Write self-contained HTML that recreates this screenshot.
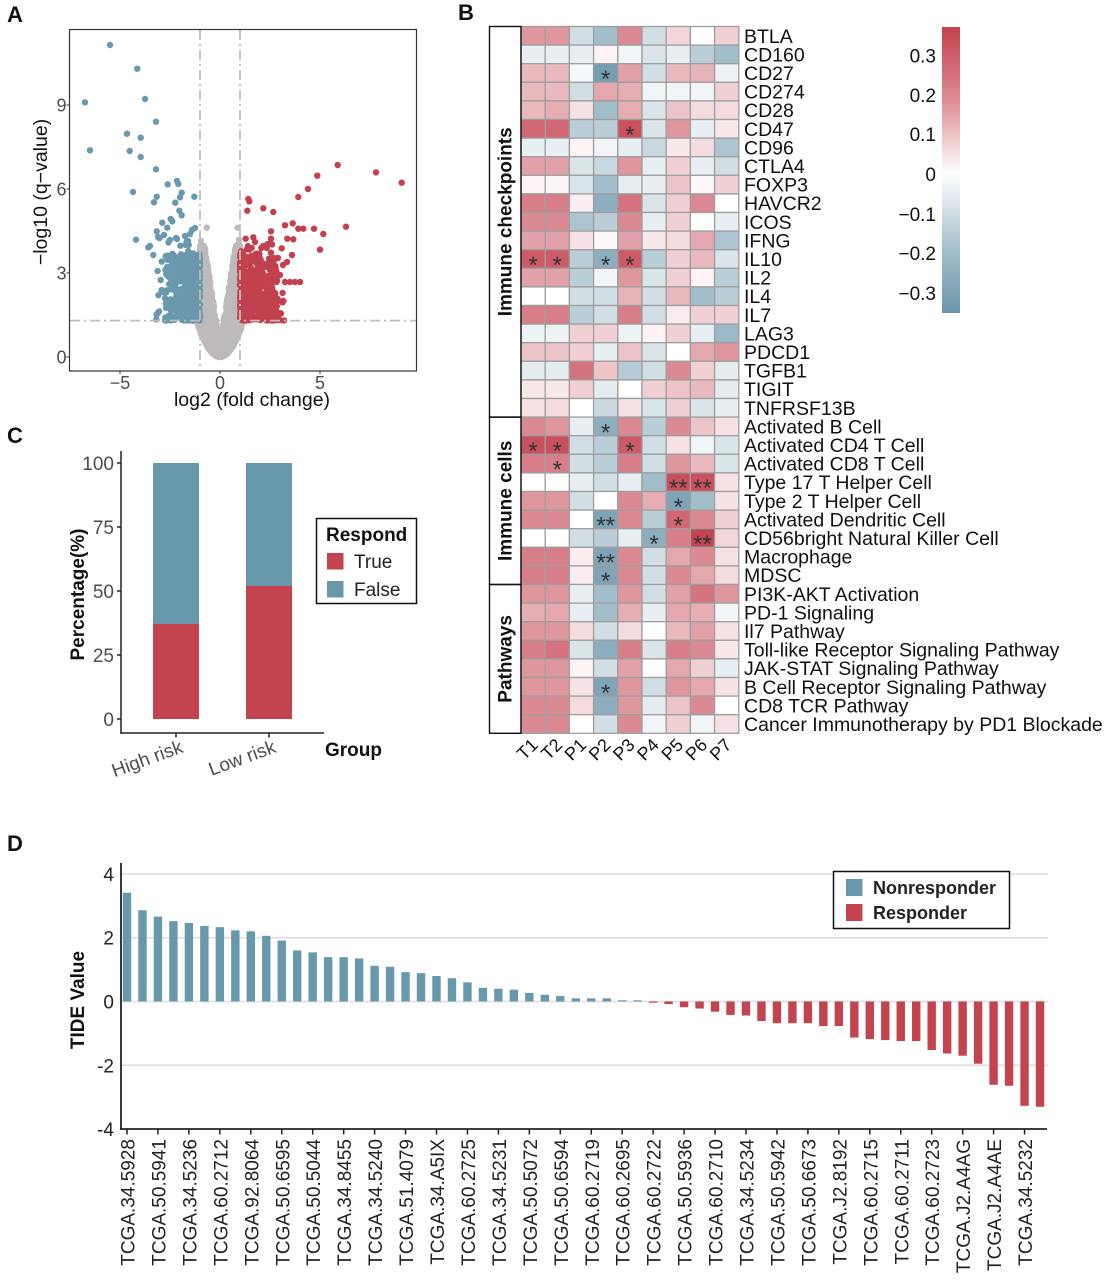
<!DOCTYPE html>
<html><head><meta charset="utf-8">
<style>html,body{margin:0;padding:0;background:#fff;}svg{display:block;}</style>
</head>
<body>
<svg xmlns="http://www.w3.org/2000/svg" width="1110" height="1280" viewBox="0 0 1110 1280" font-family="'Liberation Sans', Arial, sans-serif">
<rect width="1110" height="1280" fill="#fff"/>

<!-- ================= PANEL A ================= -->
<text x="7" y="22" font-size="22" font-weight="bold" fill="#111">A</text>
<g id="volc"></g>
<g stroke="#BDBDBD" stroke-width="1.8" fill="none" stroke-dasharray="10 4 2 4">
  <line x1="200" y1="30" x2="200" y2="370"/>
  <line x1="240" y1="30" x2="240" y2="370"/>
  <line x1="70" y1="320.6" x2="416" y2="320.6"/>
</g>
<rect x="69.5" y="29.5" width="347" height="341.5" fill="none" stroke="#333" stroke-width="1.2"/>
<g stroke="#333" stroke-width="1">
  <line x1="66.5" y1="357" x2="69" y2="357"/><line x1="66.5" y1="273" x2="69" y2="273"/>
  <line x1="66.5" y1="189" x2="69" y2="189"/><line x1="66.5" y1="105" x2="69" y2="105"/>
  <line x1="120" y1="371" x2="120" y2="374"/><line x1="220" y1="371" x2="220" y2="374"/><line x1="320" y1="371" x2="320" y2="374"/>
</g>
<g font-size="18" fill="#4D4D4D" text-anchor="end">
  <text x="66.5" y="363.5">0</text><text x="66.5" y="279.5">3</text>
  <text x="66.5" y="195.5">6</text><text x="66.5" y="111.5">9</text>
</g>
<g font-size="18" fill="#4D4D4D" text-anchor="middle">
  <text x="120" y="389">−5</text><text x="220" y="389">0</text><text x="320" y="389">5</text>
</g>
<text x="252" y="406" font-size="19.5" fill="#111" text-anchor="middle">log2 (fold change)</text>
<text transform="translate(47,192) rotate(-90)" font-size="19.5" fill="#111" text-anchor="middle">−log10 (q−value)</text>

<!-- ================= PANEL B ================= -->
<text x="458" y="20" font-size="22" font-weight="bold" fill="#111">B</text>
<g id="heat"></g>
<g fill="none" stroke="#111" stroke-width="1.4">
  <rect x="489.5" y="26.5" width="31.5" height="390.6"/>
  <rect x="489.5" y="417.1" width="31.5" height="167.4"/>
  <rect x="489.5" y="584.5" width="31.5" height="148.8"/>
</g>
<g font-size="19" font-weight="bold" fill="#111" text-anchor="middle">
  <text transform="translate(511.5,221.8) rotate(-90)">Immune checkpoints</text>
  <text transform="translate(511.5,500.8) rotate(-90)">Immune cells</text>
  <text transform="translate(511.5,658.9) rotate(-90)">Pathways</text>
</g>
<!-- stars -->
<g font-size="24" fill="#333" text-anchor="middle">
  <text x="605.7" y="87">*</text>
  <text x="629.9" y="142.8">*</text>
  <text x="533.1" y="273">*</text><text x="557.3" y="273">*</text><text x="605.7" y="273">*</text><text x="629.9" y="273">*</text>
  <text x="605.7" y="440.4">*</text>
  <text x="533.1" y="459">*</text><text x="557.3" y="459">*</text><text x="629.9" y="459">*</text>
  <text x="557.3" y="477.6">*</text>
  <text x="678.3" y="496.2">**</text><text x="702.5" y="496.2">**</text>
  <text x="678.3" y="514.8">*</text>
  <text x="605.7" y="533.4">**</text><text x="678.3" y="533.4">*</text>
  <text x="654.1" y="552">*</text><text x="702.5" y="552">**</text>
  <text x="605.7" y="570.6">**</text>
  <text x="605.7" y="589.2">*</text>
  <text x="605.7" y="700.8">*</text>
</g>
<!-- row labels -->
<g font-size="19.5" fill="#111">
  <text x="744" y="42.8">BTLA</text>
  <text x="744" y="61.4">CD160</text>
  <text x="744" y="80">CD27</text>
  <text x="744" y="98.6">CD274</text>
  <text x="744" y="117.2">CD28</text>
  <text x="744" y="135.8">CD47</text>
  <text x="744" y="154.4">CD96</text>
  <text x="744" y="173">CTLA4</text>
  <text x="744" y="191.6">FOXP3</text>
  <text x="744" y="210.2">HAVCR2</text>
  <text x="744" y="228.8">ICOS</text>
  <text x="744" y="247.4">IFNG</text>
  <text x="744" y="266">IL10</text>
  <text x="744" y="284.6">IL2</text>
  <text x="744" y="303.2">IL4</text>
  <text x="744" y="321.8">IL7</text>
  <text x="744" y="340.4">LAG3</text>
  <text x="744" y="359">PDCD1</text>
  <text x="744" y="377.6">TGFB1</text>
  <text x="744" y="396.2">TIGIT</text>
  <text x="744" y="414.8">TNFRSF13B</text>
  <text x="744" y="433.4">Activated B Cell</text>
  <text x="744" y="452">Activated CD4 T Cell</text>
  <text x="744" y="470.6">Activated CD8 T Cell</text>
  <text x="744" y="489.2">Type 17 T Helper Cell</text>
  <text x="744" y="507.8">Type 2 T Helper Cell</text>
  <text x="744" y="526.4">Activated Dendritic Cell</text>
  <text x="744" y="545">CD56bright Natural Killer Cell</text>
  <text x="744" y="563.6">Macrophage</text>
  <text x="744" y="582.2">MDSC</text>
  <text x="744" y="600.8">PI3K-AKT Activation</text>
  <text x="744" y="619.4">PD-1 Signaling</text>
  <text x="744" y="638">Il7 Pathway</text>
  <text x="744" y="656.6">Toll-like Receptor Signaling Pathway</text>
  <text x="744" y="675.2">JAK-STAT Signaling Pathway</text>
  <text x="744" y="693.8">B Cell Receptor Signaling Pathway</text>
  <text x="744" y="712.4">CD8 TCR Pathway</text>
  <text x="744" y="731">Cancer Immunotherapy by PD1 Blockade</text>
</g>
<!-- column labels -->
<g font-size="18" fill="#111" text-anchor="end">
  <text transform="translate(539.1,746) rotate(-45)">T1</text>
  <text transform="translate(563.3,746) rotate(-45)">T2</text>
  <text transform="translate(587.5,746) rotate(-45)">P1</text>
  <text transform="translate(611.7,746) rotate(-45)">P2</text>
  <text transform="translate(635.9,746) rotate(-45)">P3</text>
  <text transform="translate(660.1,746) rotate(-45)">P4</text>
  <text transform="translate(684.3,746) rotate(-45)">P5</text>
  <text transform="translate(708.5,746) rotate(-45)">P6</text>
  <text transform="translate(732.7,746) rotate(-45)">P7</text>
</g>
<!-- colorbar -->
<defs>
  <linearGradient id="cb" x1="0" y1="0" x2="0" y2="1">
    <stop offset="0" stop-color="#C43F4D"/>
    <stop offset="0.25" stop-color="#DE8A92"/>
    <stop offset="0.514" stop-color="#FFFFFF"/>
    <stop offset="0.76" stop-color="#A9C2CF"/>
    <stop offset="1" stop-color="#6B96AB"/>
  </linearGradient>
</defs>
<rect x="942" y="27" width="18" height="286" fill="url(#cb)"/>
<g font-size="19" fill="#111" text-anchor="end">
  <text x="936" y="62.5">0.3</text>
  <text x="936" y="101.8">0.2</text>
  <text x="936" y="141">0.1</text>
  <text x="936" y="180.8">0</text>
  <text x="936" y="221">−0.1</text>
  <text x="936" y="260">−0.2</text>
  <text x="936" y="300">−0.3</text>
</g>

<!-- ================= PANEL C ================= -->
<text x="7" y="443" font-size="22" font-weight="bold" fill="#111">C</text>
<rect x="153" y="463" width="46" height="161" fill="#6898AC"/>
<rect x="153" y="624" width="46" height="95" fill="#C3434F"/>
<rect x="246" y="463" width="46" height="123" fill="#6898AC"/>
<rect x="246" y="586" width="46" height="133" fill="#C3434F"/>
<g stroke="#222" stroke-width="1.5" fill="none">
  <line x1="121" y1="451" x2="121" y2="733.75"/>
  <line x1="120.25" y1="733" x2="324" y2="733"/>
  <line x1="117" y1="463" x2="121" y2="463"/><line x1="117" y1="527" x2="121" y2="527"/>
  <line x1="117" y1="591" x2="121" y2="591"/><line x1="117" y1="655" x2="121" y2="655"/>
  <line x1="117" y1="719" x2="121" y2="719"/>
  <line x1="176" y1="733" x2="176" y2="737.5"/><line x1="269" y1="733" x2="269" y2="737.5"/>
</g>
<g font-size="19" fill="#4D4D4D" text-anchor="end">
  <text x="114" y="470">100</text><text x="114" y="534">75</text>
  <text x="114" y="598">50</text><text x="114" y="662">25</text><text x="114" y="726">0</text>
</g>
<text transform="translate(84,594.5) rotate(-90)" font-size="19" font-weight="bold" fill="#111" text-anchor="middle">Percentage(%)</text>
<g font-size="19" fill="#4D4D4D" text-anchor="end">
  <text transform="translate(184,752) rotate(-20)">High risk</text>
  <text transform="translate(277,752) rotate(-20)">Low risk</text>
</g>
<text x="325" y="756" font-size="19" font-weight="bold" fill="#111">Group</text>
<rect x="316.5" y="518.5" width="100" height="85" fill="#fff" stroke="#111" stroke-width="1.5"/>
<text x="326" y="541" font-size="19" font-weight="bold" fill="#111">Respond</text>
<rect x="327" y="553" width="16.5" height="16.5" fill="#C3434F"/>
<rect x="327" y="581" width="16.5" height="16.5" fill="#6898AC"/>
<text x="354" y="568" font-size="19" fill="#222">True</text>
<text x="354" y="596" font-size="19" fill="#222">False</text>

<!-- ================= PANEL D ================= -->
<text x="7" y="851" font-size="22" font-weight="bold" fill="#111">D</text>
<g stroke="#DEDEDE" stroke-width="1.6">
  <line x1="121" y1="873.9" x2="1048" y2="873.9"/>
  <line x1="121" y1="937.7" x2="1048" y2="937.7"/>
  <line x1="121" y1="1001.5" x2="1048" y2="1001.5"/>
  <line x1="121" y1="1065.3" x2="1048" y2="1065.3"/>
</g>
<g id="bars"></g>
<g stroke="#222" stroke-width="1.8" fill="none">
  <line x1="121" y1="863" x2="121" y2="1130"/>
  <line x1="120" y1="1129" x2="1047" y2="1129"/>
</g>
<g id="xticks" stroke="#222" stroke-width="1.5"></g>
<g font-size="19" fill="#222" text-anchor="end">
  <text x="114" y="880.9">4</text><text x="114" y="944.7">2</text>
  <text x="114" y="1008.5">0</text><text x="114" y="1072.3">-2</text><text x="114" y="1136">-4</text>
</g>
<text transform="translate(84,1000) rotate(-90)" font-size="19" font-weight="bold" fill="#111" text-anchor="middle">TIDE Value</text>
<g font-size="19" fill="#222" text-anchor="end">
  <text transform="translate(134.5,1139) rotate(-90)">TCGA.34.5928</text>
  <text transform="translate(165.5,1139) rotate(-90)">TCGA.50.5941</text>
  <text transform="translate(196.4,1139) rotate(-90)">TCGA.34.5236</text>
  <text transform="translate(227.4,1139) rotate(-90)">TCGA.60.2712</text>
  <text transform="translate(258.3,1139) rotate(-90)">TCGA.92.8064</text>
  <text transform="translate(289.3,1139) rotate(-90)">TCGA.50.6595</text>
  <text transform="translate(320.2,1139) rotate(-90)">TCGA.50.5044</text>
  <text transform="translate(351.2,1139) rotate(-90)">TCGA.34.8455</text>
  <text transform="translate(382.1,1139) rotate(-90)">TCGA.34.5240</text>
  <text transform="translate(413.1,1139) rotate(-90)">TCGA.51.4079</text>
  <text transform="translate(444,1139) rotate(-90)">TCGA.34.A5IX</text>
  <text transform="translate(475,1139) rotate(-90)">TCGA.60.2725</text>
  <text transform="translate(505.9,1139) rotate(-90)">TCGA.34.5231</text>
  <text transform="translate(536.9,1139) rotate(-90)">TCGA.50.5072</text>
  <text transform="translate(567.8,1139) rotate(-90)">TCGA.50.6594</text>
  <text transform="translate(598.8,1139) rotate(-90)">TCGA.60.2719</text>
  <text transform="translate(629.7,1139) rotate(-90)">TCGA.60.2695</text>
  <text transform="translate(660.7,1139) rotate(-90)">TCGA.60.2722</text>
  <text transform="translate(691.6,1139) rotate(-90)">TCGA.50.5936</text>
  <text transform="translate(722.6,1139) rotate(-90)">TCGA.60.2710</text>
  <text transform="translate(753.5,1139) rotate(-90)">TCGA.34.5234</text>
  <text transform="translate(784.5,1139) rotate(-90)">TCGA.50.5942</text>
  <text transform="translate(815.4,1139) rotate(-90)">TCGA.50.6673</text>
  <text transform="translate(846.4,1139) rotate(-90)">TCGA.J2.8192</text>
  <text transform="translate(877.3,1139) rotate(-90)">TCGA.60.2715</text>
  <text transform="translate(908.3,1139) rotate(-90)">TCGA.60.2711</text>
  <text transform="translate(939.2,1139) rotate(-90)">TCGA.60.2723</text>
  <text transform="translate(970.2,1139) rotate(-90)">TCGA.J2.A4AG</text>
  <text transform="translate(1001.1,1139) rotate(-90)">TCGA.J2.A4AE</text>
  <text transform="translate(1032.1,1139) rotate(-90)">TCGA.34.5232</text>
</g>
<rect x="833.5" y="871.5" width="176" height="57" fill="#fff" stroke="#111" stroke-width="1.5"/>
<rect x="846" y="879" width="16.5" height="17" fill="#6898AC"/>
<rect x="846" y="904" width="16.5" height="17" fill="#C3434F"/>
<text x="873" y="894" font-size="18" font-weight="bold" fill="#222">Nonresponder</text>
<text x="873" y="919" font-size="18" font-weight="bold" fill="#222">Responder</text>
</svg>

<script>
(function(){
var NS='http://www.w3.org/2000/svg';
function mk(tag,a,p){var e=document.createElementNS(NS,tag);for(var k in a)e.setAttribute(k,a[k]);p.appendChild(e);return e;}
function rng(s){return function(){s|=0;s=s+0x6D2B79F5|0;var t=Math.imul(s^s>>>15,1|s);t=t+Math.imul(t^t>>>7,61|t)^t;return((t^t>>>14)>>>0)/4294967296;};}
var R=rng(12345);

/* ---------- Volcano ---------- */
var g=document.getElementById('volc');
function X(l){return 220+20*l;} function Y(q){return 357-28*q;}
var GR='#BEB9BA',BL='#6A98AD',RD='#C2414E';
var gray=[],blue=[],red=[];
var i,q,l,s,inner,w;
for(i=0;i<2400;i++){
  q=1.32*R(); inner=Math.max(0,0.22*(q-0.45)); w=0.6+1.0*Math.pow(q/1.3,2);
  s=R()<0.5?-1:1; l=s*(inner+(w-inner)*R());
  if(q<0.35*Math.pow(Math.abs(l)/0.62,2)) continue;
  gray.push([X(l),Y(q)]);
}
for(i=0;i<1400;i++){
  q=1.3+2.7*Math.pow(R(),1.5); inner=0.22*(q-0.45);
  s=R()<0.5?-1:1; l=s*(inner+(1-inner)*R());
  gray.push([X(l),Y(q)]);
}
gray.push([206.7,227.7],[237.7,227.7],[201,241],[239,240],[200,250],[240,252]);
for(i=0;i<430;i++){ l=-1-1.75*Math.pow(R(),1.5); q=1.3+2.4*Math.pow(R(),1.3); blue.push([X(l),Y(q)]); }
for(i=0;i<55;i++){ l=-1-2.2*R(); q=1.3+3.0*Math.pow(R(),1.6); blue.push([X(l),Y(q)]); }
for(i=0;i<480;i++){ l=1+1.85*Math.pow(R(),1.45); q=1.3+2.4*Math.pow(R(),1.3); red.push([X(l),Y(q)]); }
for(i=0;i<60;i++){ l=1+2.2*R(); q=1.3+2.8*Math.pow(R(),1.6); red.push([X(l),Y(q)]); }
var bo=[[110,45],[137.3,68.7],[85,102.3],[145,99],[156,121.7],[127,133.7],[140.7,137.7],[90,150.3],[129.7,151],[140.7,157],[156,169.3],[133,192],[177,181],[178.3,184],[167.7,184.3],[181.7,192.7],[180,197.3],[156.7,196.7],[154,202.3],[194.3,196.7],[175.3,202.7],[179.3,210.7],[181.7,215.3],[162.3,222.7],[170.7,219],[172.3,221.3],[156.7,231.3],[167.3,227.7],[136,239.7],[150,246],[148.3,247.3],[153.3,255],[160.7,280],[195,228],[190,234],[185,236],[176,238],[170,240],[164,235],[158,237],[192,230],[188,241]];
var ro=[[248.3,199],[249.3,201.3],[247.3,210.7],[263.3,208.3],[273.3,212],[337.7,165],[376,172.3],[401.7,182.7],[317.3,175.7],[308,189],[298.3,197],[285,225.3],[292.7,223.3],[298.3,228.7],[303.3,228.7],[314,228.7],[346,226.7],[323.3,234],[320,249.7],[287.3,238.7],[293.3,239.3],[271,231.3],[271,238.7],[245.7,238.7],[253.3,237.3],[261.3,248],[266.7,248],[271,252.7],[281.7,248.3],[268,244],[255,242],[290,282],[295,282],[300,282],[285,282],[280,275],[287,262],[292,255],[283,265],[278,258],[275,268]];
blue=blue.concat(bo); red=red.concat(ro);
function draw(arr,c){for(var k=0;k<arr.length;k++){mk('circle',{cx:arr[k][0].toFixed(1),cy:arr[k][1].toFixed(1),r:3.2,fill:c},g);}}
draw(gray,GR); draw(blue,BL); draw(red,RD);

/* ---------- Heatmap ---------- */
var H=[
[1.8,1.8,-1,-2,2,-1,0.7,0,0.8],
[-0.5,-0.5,-0.5,0.2,-0.3,-0.8,-0.5,-1.5,-2],
[1.2,1.2,-0.2,-3,1.6,-1,1.2,1.3,-0.4],
[1.2,1.2,-1,1.5,1.4,-0.3,-0.3,-0.3,0.8],
[1.2,1.4,0.5,-2,1.4,-0.8,1,0.6,0.6],
[2.6,2.6,-1.5,-1.5,3,-0.8,1.8,-0.5,0.4],
[-0.5,-0.5,0.2,-0.3,-0.5,-1.2,0.4,0.6,-1.8],
[1.6,1.6,-0.8,-1.2,1.8,-0.5,0.8,-0.5,-1],
[0.2,0.2,-0.8,-2,-0.5,-0.5,1,0.1,0.8],
[2.2,2.2,0.3,-2.5,2.4,-0.8,0.8,2,0],
[2,2,-1.8,-1.5,2,-0.5,0.8,0,-0.5],
[1.6,1.6,0.5,0.1,1.6,0.4,0.6,1.5,-1.8],
[2.8,2.8,-1.5,-2.5,2.8,-1.5,0.8,1.2,-0.8],
[1.6,1.6,-1.5,-0.3,1.8,-0.8,0.8,0.2,-1.5],
[0,0,-1,-1,1.3,-1,1.2,-2,-1.5],
[2.2,2.2,-1.5,-1,2.2,-1,0.3,0.8,0.8],
[-0.4,-0.4,0.8,0.8,-0.4,0.2,0.8,-0.5,-2.2],
[1,1,0.8,-0.5,1,-0.8,0,1.5,1.8],
[-0.6,-0.6,2.4,1,-1.6,-1,2,0.8,-0.6],
[0.4,0.4,0.8,-0.6,0,0.8,1,1.2,-0.6],
[0.5,0.6,0,-1.2,0.5,-0.8,0.8,-0.8,-0.5],
[2,1.8,-0.5,-2.5,2,-1.5,2,1,0.5],
[3,3,-1,-1.5,2.8,-1,0.5,-0.3,-0.8],
[2.2,2.2,-1,-1.5,2.2,-1,1.8,1.2,-0.8],
[0,0,-0.5,-1,-0.5,-2,3,3,0.5],
[1.8,1.8,-1,0,2,1.4,-2.8,-2,0.5],
[2,2,0,-2.8,2,-1.5,2.6,2,0.8],
[0,0,-1,-1.5,-0.5,-2.5,2.2,3.2,0.7],
[2.2,2.2,0.3,-2.8,2,-1,1.5,2,0.5],
[2.2,2.2,0.3,-2.8,2,-1,2,1.5,0.6],
[1.8,1.8,-0.5,-2,1.8,-1,1.6,2.4,1.8],
[1.4,1.5,-0.5,-2,1.4,-0.5,1.5,1.4,-0.3],
[1.8,1.8,0.6,-1,0.6,0,1.2,1.6,0.5],
[2.2,2.4,-0.8,-2.5,2.2,-0.8,2.2,2,0.4],
[1.8,1.8,0.2,-1,1.6,0,1.5,0.8,-0.5],
[1.8,1.8,0.5,-2.8,1.8,-1,1.8,1.5,0.5],
[2,2,0.6,-2.5,1.8,-0.6,1,2,0],
[2,2,0,-1,2,-0.3,0.8,-0.3,0.5]
];
var hg=document.getElementById('heat');
function col(v){var t=Math.min(1,Math.abs(v)/3.3);var e=v>=0?[196,62,76]:[104,148,170];
  return 'rgb('+e.map(function(c){return Math.round(255-(255-c)*t);}).join(',')+')';}
for(var r=0;r<H.length;r++){for(var c=0;c<9;c++){
  mk('rect',{x:(521+24.2*c).toFixed(2),y:(26.5+18.6*r).toFixed(2),width:24.2,height:18.6,fill:col(H[r][c]),stroke:'#9E9E9E','stroke-width':1.3},hg);
}}

/* ---------- Bars ---------- */
var B=[3.41,2.86,2.66,2.52,2.46,2.37,2.33,2.23,2.2,2.06,1.91,1.6,1.54,1.39,1.39,1.35,1.12,1.09,0.92,0.89,0.8,0.73,0.6,0.43,0.4,0.37,0.27,0.21,0.17,0.1,0.1,0.1,0.03,0.03,
-0.03,-0.08,-0.18,-0.22,-0.32,-0.42,-0.44,-0.61,-0.68,-0.68,-0.68,-0.77,-0.77,-1.13,-1.18,-1.21,-1.24,-1.24,-1.52,-1.63,-1.7,-1.95,-2.61,-2.64,-3.27,-3.3];
var bg=document.getElementById('bars');
for(i=0;i<B.length;i++){
  var cx=127+15.475*i, v=B[i], h=Math.max(1.2,Math.abs(v)*31.9), y0=1001.5;
  mk('rect',{x:(cx-4.2).toFixed(2),y:(v>=0?y0-h:y0).toFixed(2),width:8.4,height:h.toFixed(2),fill:v>=0?'#6898AC':'#C3434F'},bg);
}
var tg=document.getElementById('xticks');
for(i=0;i<30;i++){var tx=127+30.95*i; mk('line',{x1:tx.toFixed(2),y1:1129,x2:tx.toFixed(2),y2:1134.5},tg);}
})();
</script>
</body></html>
